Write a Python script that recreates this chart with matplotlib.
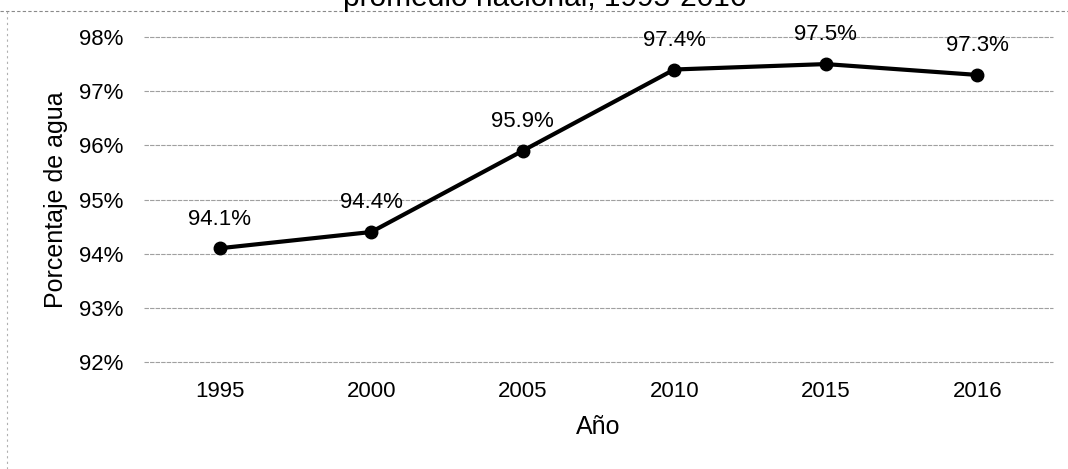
import matplotlib.pyplot as plt
from matplotlib.lines import Line2D

plt.rcParams['font.family'] = ['Liberation Sans', 'DejaVu Sans']

years = ['1995', '2000', '2005', '2010', '2015', '2016']
agua = [94.1, 94.4, 95.9, 97.4, 97.5, 97.3]
yticks = [92, 93, 94, 95, 96, 97, 98]
title = 'promedio nacional, 1995-2016'

W, H = 1068, 469
fig = plt.figure(figsize=(W / 100, H / 100), dpi=100)
ax = fig.add_axes([144 / W, 1 - 362 / H, 909 / W, 325 / H])

x = list(range(len(years)))
ax.plot(x, agua, color='black', lw=3, marker='o', ms=9, zorder=3)

for xi, v in zip(x, agua):
    ax.annotate(f'{v:.1f}%', (xi, v), xytext=(0, 21), textcoords='offset points',
                ha='center', va='center', fontsize=16)

ax.set_xlim(-0.5, 5.5)
ax.set_ylim(92, 98)
ax.set_xticks(x)
ax.set_xticklabels(years, fontsize=16)
ax.set_yticks(yticks)
ax.set_yticklabels([f'{t}%' for t in yticks], fontsize=16)
ax.tick_params(axis='y', length=0, pad=15)
ax.tick_params(axis='x', length=0, pad=14)
ax.grid(axis='y', color='#a0a0a0', lw=0.8, ls=(0, (4, 1)))
for gl in ax.get_ygridlines():
    gl.set_clip_on(False)
ax.set_axisbelow(True)
for s in ax.spines.values():
    s.set_visible(False)

ax.set_xlabel('Año', fontsize=18, labelpad=9)
ax.set_ylabel('Porcentaje de agua', fontsize=18, labelpad=8)

# title cut off at the top of the scan
fig.text(545 / W, 1 - 6 / H, title, ha='center', va='baseline', fontsize=21.5)

# remains of the chart frame (top and left edge)
fig.add_artist(Line2D([0.0, 1.0], [1 - 11 / H] * 2, color='#8a8a8a', lw=0.8, ls=(0, (3, 2))))
fig.add_artist(Line2D([7 / W] * 2, [0, 1 - 11 / H], color='#b0b0b0', lw=0.8, ls=(0, (2, 3))))

fig.savefig('out.png', dpi=100)
